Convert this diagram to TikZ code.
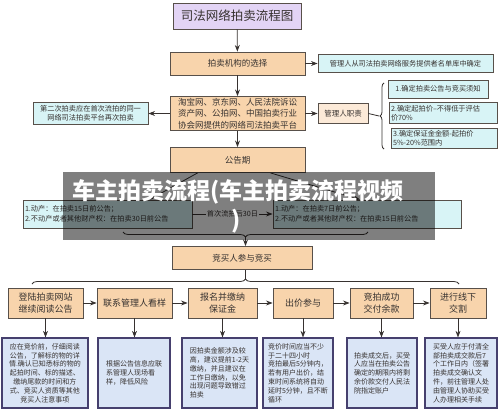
\documentclass[tikz,border=0pt]{standalone}
\usepackage{fontspec}
\setmainfont{Noto Sans CJK SC}
\usepackage{tikz}
\usetikzlibrary{arrows.meta,positioning,calc,decorations.pathreplacing}
\usepackage{xcolor}
\tikzset{>=Stealth}
\definecolor{Pcolor}{RGB}{227,212,245}
\definecolor{Ocolor}{RGB}{248,212,172}
\definecolor{Lcolor}{RGB}{252,234,216}
\definecolor{Ccolor}{RGB}{216,244,246}
\definecolor{Bcolor}{RGB}{218,229,246}
\definecolor{Dcolor}{RGB}{88,80,74}
\definecolor{Tcolor}{RGB}{55,50,48}
\tikzset{
  tbox/.style={draw=Dcolor,fill=Pcolor,line width=0.9pt,inner sep=1pt,
    font=\fontsize{12.5}{14}\selectfont},
  obox/.style={draw=Dcolor,fill=Ocolor,line width=0.8pt,inner sep=1pt,align=center,
    font=\fontsize{8.5}{11.5}\selectfont},
  sbox/.style={obox,font=\fontsize{9}{12}\selectfont,minimum height=30},
  cbox/.style={draw=Dcolor,fill=Ccolor,line width=0.8pt,inner sep=2pt,align=left,
    font=\fontsize{7.2}{9.5}\selectfont},
  bbox/.style={draw=Dcolor!80!blue,fill=Bcolor,line width=1.1pt,inner sep=2pt,
    minimum height=70,font=\fontsize{7}{8.8}\selectfont,align=left},
  link/.style={->,draw=Tcolor,line width=0.8pt},
  every node/.style={text=Tcolor}
}

\begin{document}
\begin{tikzpicture}[x=1pt,y=-1pt]
\useasboundingbox (0,0) rectangle (500,412);
% top part
\node[tbox,minimum width=128,minimum height=26] (title) at (237,16) {司法网络拍卖流程图};
\node[obox,minimum width=135,minimum height=23] (select) at (237.5,63.5) {拍卖机构的选择};
\node[cbox,align=center,minimum width=175,minimum height=18] (source) at (405.5,63.5)
  {管理人从司法拍卖网络服务提供者名单库中确定};
\node[obox,minimum width=135,minimum height=34] (platform) at (237.5,113.5)
  {淘宝网、京东网、人民法院诉讼\\资产网、公拍网、中国拍卖行业\\协会网提供的网络司法拍卖平台};
\node[cbox,align=center,minimum width=115,minimum height=22,font=\fontsize{7.2}{9}\selectfont] (second) at (90.5,113.5)
  {第二次拍卖应在首次流拍的同一\\网络司法拍卖平台再次拍卖};
\node[obox,fill=Lcolor,minimum width=50,minimum height=20,font=\fontsize{7.5}{9}\selectfont] (duty) at (343,113.5) {管理人职责};
\node[cbox,minimum width=100,minimum height=18] (d1) at (438,89) {1.确定拍卖公告与竞买须知};
\node[cbox,text width=104,minimum height=21,font=\fontsize{7.2}{8.6}\selectfont] (d2) at (443,113)
  {2.确定起拍价--不得低于评估\\价70\%};
\node[cbox,text width=102,minimum height=20,font=\fontsize{7.2}{8.6}\selectfont] (d3) at (444,138.5)
  {3.确定保证金金额-起拍价\\5\%-20\%范围内};
\node[obox,minimum width=135,minimum height=25] (notice) at (237.5,160) {公告期};
\node[cbox,text width=165,minimum height=28] (first) at (107.5,214)
  {1.动产：在拍卖15日前公告；\\2.不动产或者其他财产权：在拍卖30日前公告};
\node[cbox,text width=184,minimum height=28] (again) at (367,214)
  {1.动产：在拍卖7日前公告；\\2.不动产或者其他财产权：在拍卖15日前公告};
\node[obox,minimum width=140,minimum height=23] (bidder) at (242,258) {竞买人参与竞买};

\draw[link] (title) -- (select);
\draw[link] (select) -- (source);
\draw[link] (select) -- (platform);
\draw[link] (platform) -- (second);
\draw[link] (platform) -- (duty);
\draw[link] (platform) -- (notice);
\draw[link] ([xshift=28pt]notice.south west) -- ([xshift=42pt]first.north);
\draw[link] ([xshift=-35pt]notice.south east) -- ([xshift=-7pt]again.north);
\draw[link] (first) -- node[fill=white,inner sep=1pt,font=\fontsize{7.2}{9}\selectfont] (gap) {首次流拍后30日} (again);

% braces
\coordinate (tipduty) at (379,116);
\draw[draw=Tcolor,line width=0.8pt,decorate,decoration={brace,amplitude=4pt}] (384,149) -- (384,83);
\draw[draw=Tcolor,line width=0.8pt] (duty.east) -- (tipduty);
\coordinate (tipnote) at (245.5,237);
\draw[draw=Tcolor,line width=0.8pt,decorate,decoration={brace,mirror,amplitude=5pt}] (123,232) -- (368,232);
\draw[link] (tipnote) -- (tipnote |- bidder.north);
\coordinate (tipbid) at (245.5,279);
\draw[draw=Tcolor,line width=0.8pt,decorate,decoration={brace,amplitude=5pt}] (32,284) -- (459,284);
\draw[draw=Tcolor,line width=0.8pt] (tipbid) -- (tipbid |- bidder.south);

% steps
\node[sbox,minimum width=75] (s1) at (45.5,303) {登陆拍卖网站\\继续阅读公告};
\node[sbox,minimum width=75] (s2) at (134.5,303) {联系管理人看样};
\node[sbox,minimum width=69] (s3) at (222.5,303) {报名并缴纳\\保证金};
\node[sbox,minimum width=60] (s4) at (303,303) {出价参与};
\node[sbox,minimum width=63] (s5) at (381.5,303) {竞拍成功\\交付余款};
\node[sbox,minimum width=56] (s6) at (458,303) {进行线下\\交割};
\foreach \a/\b in {s1/s2,s2/s3,s3/s4,s4/s5,s5/s6}
  \draw[link] (\a) -- (\b);

% notes
\node[bbox,minimum width=86,align=center] (n1) at (45,373)
  {应在竞价前，仔细阅读\\公告，了解标的物的详\\情.确认已知悉标的物的\\起拍时间、标的描述、\\缴纳尾款的时间和方\\式、竞买人资质等其他\\竞买人注意事项};
\node[bbox,minimum width=72] (n2) at (134,373)
  {根据公告信息应联\\系管理人现场看\\样，降低风险};
\node[bbox,minimum width=75] (n3) at (219.5,373)
  {因拍卖金额涉及较\\高，建议提前1-2天\\缴纳，并且建议在\\工作日缴纳，以免\\出现问题导致错过\\拍卖};
\node[bbox,minimum width=70] (n4) at (298,373)
  {竞价时间应当不少\\于二十四小时\\竞拍最后5分钟内，\\若有用户出价，结\\束时间系统将自动\\延时5分钟，且不断\\循环};
\node[bbox,minimum width=70] (n5) at (382,373)
  {拍卖成交后，买受\\人应当在拍卖公告\\确定的期限内将剩\\余价款交付人民法\\院指定账户};
\node[bbox,minimum width=72] (n6) at (461,373)
  {买受人应于付清全\\部拍卖成交款后7\\个工作日内（签署\\拍卖成交确认文\\件，前往管理人处\\由管理人协助买受\\人办理相关手续};
\foreach \k in {1,...,6}
  \draw[link] (s\k.south) -- (s\k.south |- n\k.north);

% overlay
\fill[black,opacity=0.5] (63,172) rectangle (435,240);
\node[text=white,font=\fontsize{23}{24}\selectfont\bfseries] (wm1) at (238,192) {车主拍卖流程(车主拍卖流程视频};
\node[text=white,font=\fontsize{23}{24}\selectfont\bfseries] (wm2) at (236,221) {)};
\end{tikzpicture}
\end{document}
